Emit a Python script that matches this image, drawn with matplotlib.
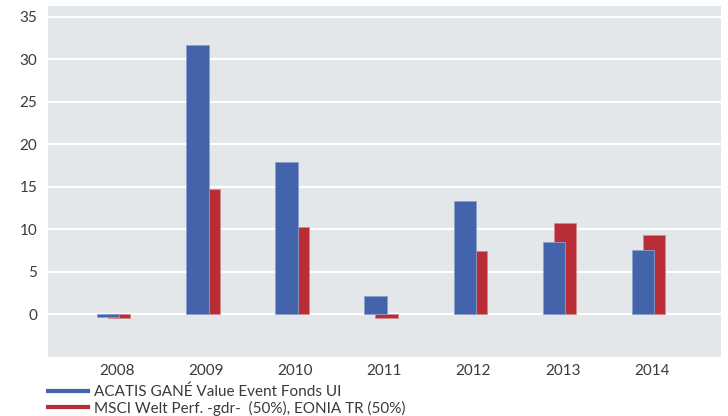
import matplotlib
matplotlib.use("Agg")
import matplotlib.pyplot as plt
from matplotlib.lines import Line2D
import numpy as np

plt.rcParams['font.family'] = ['Lato', 'DejaVu Sans']

# Data (annual performance in %)
years = ["2008", "2009", "2010", "2011", "2012", "2013", "2014"]
fund = [-0.3, 31.7, 17.9, 2.1, 13.3, 8.5, 7.5]
benchmark = [-0.5, 14.7, 10.3, -0.4, 7.4, 10.7, 9.3]
fund_label = "ACATIS GANÉ Value Event Fonds UI"
bench_label = "MSCI Welt Perf. -gdr-  (50%), EONIA TR (50%)"

blue = "#4364ab"
red = "#b92e36"
text_col = "#3a3a3a"

fig = plt.figure(figsize=(7.28, 4.16), dpi=100)
ax = fig.add_axes([0.0663, 0.1425, 0.9245, 0.8438])
ax.set_facecolor("#e4e7ea")

x = np.arange(len(years))
w = 0.252
# red drawn first, blue overlaps it on the left
ax.bar(x - 0.101, benchmark, width=w, align="edge", color=red,
       edgecolor="#d08a90", linewidth=0.6, zorder=2)
ax.bar(x - 0.224, fund, width=w, align="edge", color=blue,
       edgecolor="#8aa0cc", linewidth=0.6, zorder=3)

ax.set_xlim(-0.77, 6.78)
ax.set_ylim(-5, 36.3)
ax.set_yticks([0, 5, 10, 15, 20, 25, 30, 35])
ax.set_xticks(x)
ax.set_xticklabels(years)
ax.grid(axis="y", color="white", linewidth=1.6, zorder=1)
ax.set_axisbelow(True)
for s in ax.spines.values():
    s.set_visible(False)
ax.tick_params(length=0, labelsize=11, colors=text_col)
ax.tick_params(axis="x", pad=5)
ax.tick_params(axis="y", pad=8)

handles = [Line2D([], [], color=blue, lw=3), Line2D([], [], color=red, lw=3)]
leg = fig.legend(handles, [fund_label, bench_label], loc="upper left",
                 bbox_to_anchor=(0.066, 0.076), frameon=False, fontsize=11,
                 handlelength=2.6, handletextpad=0.4, labelspacing=0.12,
                 borderaxespad=0, borderpad=0)
for t in leg.get_texts():
    t.set_color(text_col)

fig.savefig("out.png", dpi=100)
